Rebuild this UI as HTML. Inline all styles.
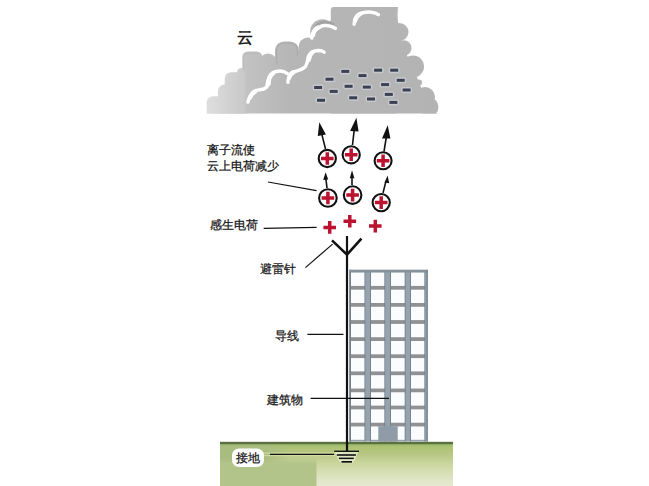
<!DOCTYPE html>
<html><head><meta charset="utf-8">
<style>
html,body{margin:0;padding:0;background:#fff;}
body{width:649px;height:486px;position:relative;overflow:hidden;font-family:"Liberation Sans",sans-serif;color:#161616;}
svg{position:absolute;left:0;top:0;}
.t{position:absolute;font-size:12px;line-height:12px;white-space:nowrap;-webkit-text-stroke:0.25px #161616;}
</style></head><body>
<svg width="649" height="486" viewBox="0 0 649 486">
<defs>
<linearGradient id="cg" x1="207" y1="0" x2="438" y2="0" gradientUnits="userSpaceOnUse">
<stop offset="0" stop-color="#dedede"/>
<stop offset="0.16" stop-color="#c9c9c9"/>
<stop offset="0.17" stop-color="#c2c2c2"/>
<stop offset="0.36" stop-color="#b6b6b6"/>
<stop offset="1" stop-color="#b3b3b3"/>
</linearGradient>
<linearGradient id="gg" x1="0" y1="444" x2="0" y2="486" gradientUnits="userSpaceOnUse">
<stop offset="0" stop-color="#a2bf6e"/>
<stop offset="0.1" stop-color="#afc377"/>
<stop offset="0.25" stop-color="#b9c784"/>
<stop offset="0.45" stop-color="#c9d59c"/>
<stop offset="0.7" stop-color="#d8e0b8"/>
<stop offset="1" stop-color="#e6ead2"/>
</linearGradient>
<linearGradient id="gl" x1="220" y1="0" x2="290" y2="0" gradientUnits="userSpaceOnUse">
<stop offset="0" stop-color="#a8bc80"/>
<stop offset="0.65" stop-color="#a9bd80"/>
<stop offset="1" stop-color="#a9bd80" stop-opacity="0"/>
</linearGradient>
<clipPath id="cc"><rect x="200" y="7" width="250" height="106.5"/></clipPath>
</defs>
<!-- cloud -->
<g clip-path="url(#cc)" fill="url(#cg)">
<polygon points="214,104.5 224,93 231,82 243,76 245,60 251,60 265,62 287,53 308,47 322,31 331,20 334,12 397,12 399,31 403,48 413,66.5 419,82.5 425,97 429,108 438,114 207,114"/>
<path d="M330.8,9.5 Q330.8,7 333,7 H398 Q397.5,15 396.8,21 L396.8,114 H330.8 Z"/>
<rect x="206.6" y="96.2" width="18.5" height="30" rx="6.5"/>
<rect x="218" y="84.5" width="20" height="40" rx="6.5"/>
<rect x="224.7" y="72.2" width="18.5" height="50" rx="6.5"/>
<rect x="237" y="68" width="10" height="50" rx="4.5"/>
<rect x="242.2" y="51.5" width="20" height="30" rx="5.5"/>
<circle cx="268" cy="62.3" r="8.8"/>
<rect x="275" y="41.4" width="24" height="30" rx="9"/>
<circle cx="308" cy="47" r="9.5"/>
<circle cx="322.5" cy="31.5" r="12.3"/>
<circle cx="399.5" cy="32" r="9"/>
<circle cx="403.7" cy="48" r="7.8"/>
<circle cx="413" cy="66.5" r="11"/>
<circle cx="419" cy="82.5" r="3"/>
<circle cx="425" cy="97" r="10"/>
<circle cx="429" cy="107" r="9.5"/>
</g>
<!-- cloud rims -->
<g fill="none" stroke-linecap="round">
<path d="M312.6,35 C313,28 317.5,22.6 323.5,22 C328,21.7 331,22.8 333.2,24.3" stroke="#a2a2a2" stroke-width="2.6"/>
<path d="M276.6,64 V51 C276.6,46 279.5,43.2 284,43.2 H290.5 C294.5,43.2 297.3,46 297.3,50.5 V56" stroke="#acacac" stroke-width="1.3"/>
<path d="M243.8,70 V58 C243.8,55 245.5,53.2 248.5,53.2 H257" stroke="#bababa" stroke-width="1.2"/>
</g>
<!-- cloud white highlights -->
<g fill="none" stroke="#fff" stroke-width="3.4" stroke-linecap="round" stroke-linejoin="round">
<path d="M247.9,102 C249.5,95 253,91 258.7,89.9 C261,89.5 263,89.3 264.5,88.6 L266.9,86.9 C267.5,80 270,73 276,71.5 C280,70.5 284.5,71.3 287.2,73.5"/>
<path d="M287.9,82.4 C288,77 291,72 297,70.8 C300,70 302.5,69.5 304.7,67.3 C307.5,64 307.8,60 308.2,57 C309,53.5 313,51 318.5,50.5 C320.5,50.5 323,51.2 324.2,52.2"/>
<path d="M311.8,38.1 C312,33 315,29 322.2,25.9 C326,25 332,26 335.4,28.4"/>
<path d="M354.1,24.3 C354,19 358,13.5 363.8,12.5 C368,11.5 375,12 378.4,14.6"/>
</g>
<g fill="none" stroke="#fff" stroke-width="4.4" stroke-linecap="round">
<path d="M268.5,84 C268.5,79 270,75.5 273,73.2"/>
<path d="M308.6,60 C309,56 310,54 312.5,52.2"/>
<path d="M313,35 C313.5,31 315,29 318,27.5"/>
<path d="M355,21 C355.5,18 357,15.5 360,14"/>
<path d="M250,97.5 C251,95 252.5,93 255,91.5"/>
<path d="M289,78 C289.5,75.5 291,73.5 293.5,72.2"/>
</g>
<!-- negative charges -->
<rect x="339.8" y="68.4" width="11" height="6" rx="2" fill="#cbcdd4" opacity="0.8"/>
<rect x="372.6" y="67.2" width="11" height="6" rx="2" fill="#cbcdd4" opacity="0.8"/>
<rect x="388.7" y="67.2" width="11" height="6" rx="2" fill="#cbcdd4" opacity="0.8"/>
<rect x="357.0" y="72.6" width="11" height="6" rx="2" fill="#cbcdd4" opacity="0.8"/>
<rect x="324.0" y="76.2" width="11" height="6" rx="2" fill="#cbcdd4" opacity="0.8"/>
<rect x="395.2" y="77.3" width="11" height="6" rx="2" fill="#cbcdd4" opacity="0.8"/>
<rect x="343.1" y="83.3" width="11" height="6" rx="2" fill="#cbcdd4" opacity="0.8"/>
<rect x="361.3" y="84.1" width="11" height="6" rx="2" fill="#cbcdd4" opacity="0.8"/>
<rect x="379.6" y="81.6" width="11" height="6" rx="2" fill="#cbcdd4" opacity="0.8"/>
<rect x="312.6" y="84.5" width="11" height="6" rx="2" fill="#cbcdd4" opacity="0.8"/>
<rect x="328.2" y="88.4" width="11" height="6" rx="2" fill="#cbcdd4" opacity="0.8"/>
<rect x="401.1" y="87.0" width="11" height="6" rx="2" fill="#cbcdd4" opacity="0.8"/>
<rect x="383.3" y="91.4" width="11" height="6" rx="2" fill="#cbcdd4" opacity="0.8"/>
<rect x="347.7" y="94.8" width="11" height="6" rx="2" fill="#cbcdd4" opacity="0.8"/>
<rect x="365.5" y="96.0" width="11" height="6" rx="2" fill="#cbcdd4" opacity="0.8"/>
<rect x="315.5" y="97.3" width="11" height="6" rx="2" fill="#cbcdd4" opacity="0.8"/>
<rect x="387.9" y="99.4" width="11" height="6" rx="2" fill="#cbcdd4" opacity="0.8"/>
<rect x="341.3" y="69.9" width="8" height="3" fill="#3b4152"/>
<rect x="374.1" y="68.7" width="8" height="3" fill="#3b4152"/>
<rect x="390.2" y="68.7" width="8" height="3" fill="#3b4152"/>
<rect x="358.5" y="74.1" width="8" height="3" fill="#3b4152"/>
<rect x="325.5" y="77.7" width="8" height="3" fill="#3b4152"/>
<rect x="396.7" y="78.8" width="8" height="3" fill="#3b4152"/>
<rect x="344.6" y="84.8" width="8" height="3" fill="#3b4152"/>
<rect x="362.8" y="85.6" width="8" height="3" fill="#3b4152"/>
<rect x="381.1" y="83.1" width="8" height="3" fill="#3b4152"/>
<rect x="314.1" y="86.0" width="8" height="3" fill="#3b4152"/>
<rect x="329.7" y="89.9" width="8" height="3" fill="#3b4152"/>
<rect x="402.6" y="88.5" width="8" height="3" fill="#3b4152"/>
<rect x="384.8" y="92.9" width="8" height="3" fill="#3b4152"/>
<rect x="349.2" y="96.3" width="8" height="3" fill="#3b4152"/>
<rect x="367.0" y="97.5" width="8" height="3" fill="#3b4152"/>
<rect x="317.0" y="98.8" width="8" height="3" fill="#3b4152"/>
<rect x="389.4" y="100.9" width="8" height="3" fill="#3b4152"/>
<!-- arrows -->
<g stroke="#111" stroke-width="1.6" fill="none">
<line x1="325.5" y1="149" x2="321.5" y2="133"/>
<line x1="352.5" y1="145" x2="354.3" y2="129"/>
<line x1="384" y1="151.5" x2="386.5" y2="136"/>
<line x1="327" y1="188" x2="325.8" y2="178"/>
<line x1="352" y1="185" x2="352" y2="176"/>
<line x1="383" y1="193" x2="386" y2="181"/>
</g>
<g fill="#111">
<polygon points="319.3,122.3 317.8,136 325.9,134.4"/>
<polygon points="356.4,117.8 350.1,131 358.6,131.6"/>
<polygon points="387.7,125.3 382,138.4 390.4,138.4"/>
<polygon points="325.6,172.3 323.2,180 328.2,179.4"/>
<polygon points="352,170.2 349.8,178.3 354.4,178.3"/>
<polygon points="387.6,175.6 384.5,182.4 389.2,183.2"/>
</g>
<!-- circles -->
<g fill="#fff" stroke="#111" stroke-width="2.1">
<circle cx="327.3" cy="158.5" r="8.6"/>
<circle cx="351.2" cy="154.8" r="8.6"/>
<circle cx="383.1" cy="160.8" r="8.5"/>
<circle cx="327.9" cy="198" r="8.8"/>
<circle cx="352.6" cy="195.1" r="8.8"/>
<circle cx="381.2" cy="202.6" r="8.6"/>
</g>
<!-- plus signs -->
<g stroke="#bc1331" stroke-width="3.5">
<path d="M321.0,158.5h12.6M327.3,152.2v12.6"/>
<path d="M344.9,154.8h12.6M351.2,148.5v12.6"/>
<path d="M376.8,160.8h12.6M383.1,154.5v12.6"/>
<path d="M321.6,198h12.6M327.9,191.7v12.6"/>
<path d="M346.3,195.1h12.6M352.6,188.8v12.6"/>
<path d="M374.9,202.6h12.6M381.2,196.3v12.6"/>
<path d="M323.4,227.4h12.6M329.7,221.1v12.6"/>
<path d="M343.5,221.2h12.6M349.8,214.9v12.6"/>
<path d="M369.0,226.1h12.6M375.3,219.8v12.6"/>
</g>
<!-- building -->
<rect x="349.2" y="269.8" width="78.6" height="171.7" fill="#95a3ae"/>
<rect x="349.2" y="269.8" width="78.6" height="2.8" fill="#87939c"/>
<rect x="349.2" y="269.8" width="1.8" height="171.7" fill="#87939c"/>
<rect x="350.4" y="285.9" width="14.6" height="3.8" fill="#8f9193"/>
<rect x="370.4" y="285.9" width="14.5" height="3.8" fill="#8f9193"/>
<rect x="390.4" y="285.9" width="14.8" height="3.8" fill="#8f9193"/>
<rect x="410.4" y="285.9" width="14.5" height="3.8" fill="#8f9193"/>
<rect x="350.4" y="303.0" width="14.6" height="3.8" fill="#8f9193"/>
<rect x="370.4" y="303.0" width="14.5" height="3.8" fill="#8f9193"/>
<rect x="390.4" y="303.0" width="14.8" height="3.8" fill="#8f9193"/>
<rect x="410.4" y="303.0" width="14.5" height="3.8" fill="#8f9193"/>
<rect x="350.4" y="320.1" width="14.6" height="3.8" fill="#8f9193"/>
<rect x="370.4" y="320.1" width="14.5" height="3.8" fill="#8f9193"/>
<rect x="390.4" y="320.1" width="14.8" height="3.8" fill="#8f9193"/>
<rect x="410.4" y="320.1" width="14.5" height="3.8" fill="#8f9193"/>
<rect x="350.4" y="337.2" width="14.6" height="3.8" fill="#8f9193"/>
<rect x="370.4" y="337.2" width="14.5" height="3.8" fill="#8f9193"/>
<rect x="390.4" y="337.2" width="14.8" height="3.8" fill="#8f9193"/>
<rect x="410.4" y="337.2" width="14.5" height="3.8" fill="#8f9193"/>
<rect x="350.4" y="354.3" width="14.6" height="3.8" fill="#8f9193"/>
<rect x="370.4" y="354.3" width="14.5" height="3.8" fill="#8f9193"/>
<rect x="390.4" y="354.3" width="14.8" height="3.8" fill="#8f9193"/>
<rect x="410.4" y="354.3" width="14.5" height="3.8" fill="#8f9193"/>
<rect x="350.4" y="371.4" width="14.6" height="3.8" fill="#8f9193"/>
<rect x="370.4" y="371.4" width="14.5" height="3.8" fill="#8f9193"/>
<rect x="390.4" y="371.4" width="14.8" height="3.8" fill="#8f9193"/>
<rect x="410.4" y="371.4" width="14.5" height="3.8" fill="#8f9193"/>
<rect x="350.4" y="388.5" width="14.6" height="3.8" fill="#8f9193"/>
<rect x="370.4" y="388.5" width="14.5" height="3.8" fill="#8f9193"/>
<rect x="390.4" y="388.5" width="14.8" height="3.8" fill="#8f9193"/>
<rect x="410.4" y="388.5" width="14.5" height="3.8" fill="#8f9193"/>
<rect x="350.4" y="405.6" width="14.6" height="3.8" fill="#8f9193"/>
<rect x="370.4" y="405.6" width="14.5" height="3.8" fill="#8f9193"/>
<rect x="390.4" y="405.6" width="14.8" height="3.8" fill="#8f9193"/>
<rect x="410.4" y="405.6" width="14.5" height="3.8" fill="#8f9193"/>
<rect x="350.4" y="422.7" width="14.6" height="3.8" fill="#8f9193"/>
<rect x="370.4" y="422.7" width="14.5" height="3.8" fill="#8f9193"/>
<rect x="390.4" y="422.7" width="14.8" height="3.8" fill="#8f9193"/>
<rect x="410.4" y="422.7" width="14.5" height="3.8" fill="#8f9193"/>
<rect x="350.1" y="272.4" width="0.9" height="169.1" fill="#74808a"/>
<rect x="364.4" y="272.4" width="0.9" height="169.1" fill="#74808a"/>
<rect x="370.1" y="272.4" width="0.9" height="169.1" fill="#74808a"/>
<rect x="384.3" y="272.4" width="0.9" height="169.1" fill="#74808a"/>
<rect x="390.1" y="272.4" width="0.9" height="169.1" fill="#74808a"/>
<rect x="404.6" y="272.4" width="0.9" height="169.1" fill="#74808a"/>
<rect x="410.1" y="272.4" width="0.9" height="169.1" fill="#74808a"/>
<rect x="424.3" y="272.4" width="0.9" height="169.1" fill="#74808a"/>
<rect x="351.0" y="272.6" width="13.4" height="13.3" fill="#fbfcfd"/>
<rect x="371.0" y="272.6" width="13.3" height="13.3" fill="#fbfcfd"/>
<rect x="391.0" y="272.6" width="13.6" height="13.3" fill="#fbfcfd"/>
<rect x="411.0" y="272.6" width="13.3" height="13.3" fill="#fbfcfd"/>
<rect x="351.0" y="289.7" width="13.4" height="13.3" fill="#fbfcfd"/>
<rect x="371.0" y="289.7" width="13.3" height="13.3" fill="#fbfcfd"/>
<rect x="391.0" y="289.7" width="13.6" height="13.3" fill="#fbfcfd"/>
<rect x="411.0" y="289.7" width="13.3" height="13.3" fill="#fbfcfd"/>
<rect x="351.0" y="306.8" width="13.4" height="13.3" fill="#fbfcfd"/>
<rect x="371.0" y="306.8" width="13.3" height="13.3" fill="#fbfcfd"/>
<rect x="391.0" y="306.8" width="13.6" height="13.3" fill="#fbfcfd"/>
<rect x="411.0" y="306.8" width="13.3" height="13.3" fill="#fbfcfd"/>
<rect x="351.0" y="323.9" width="13.4" height="13.3" fill="#fbfcfd"/>
<rect x="371.0" y="323.9" width="13.3" height="13.3" fill="#fbfcfd"/>
<rect x="391.0" y="323.9" width="13.6" height="13.3" fill="#fbfcfd"/>
<rect x="411.0" y="323.9" width="13.3" height="13.3" fill="#fbfcfd"/>
<rect x="351.0" y="341.0" width="13.4" height="13.3" fill="#fbfcfd"/>
<rect x="371.0" y="341.0" width="13.3" height="13.3" fill="#fbfcfd"/>
<rect x="391.0" y="341.0" width="13.6" height="13.3" fill="#fbfcfd"/>
<rect x="411.0" y="341.0" width="13.3" height="13.3" fill="#fbfcfd"/>
<rect x="351.0" y="358.1" width="13.4" height="13.3" fill="#fbfcfd"/>
<rect x="371.0" y="358.1" width="13.3" height="13.3" fill="#fbfcfd"/>
<rect x="391.0" y="358.1" width="13.6" height="13.3" fill="#fbfcfd"/>
<rect x="411.0" y="358.1" width="13.3" height="13.3" fill="#fbfcfd"/>
<rect x="351.0" y="375.2" width="13.4" height="13.3" fill="#fbfcfd"/>
<rect x="371.0" y="375.2" width="13.3" height="13.3" fill="#fbfcfd"/>
<rect x="391.0" y="375.2" width="13.6" height="13.3" fill="#fbfcfd"/>
<rect x="411.0" y="375.2" width="13.3" height="13.3" fill="#fbfcfd"/>
<rect x="351.0" y="392.3" width="13.4" height="13.3" fill="#fbfcfd"/>
<rect x="371.0" y="392.3" width="13.3" height="13.3" fill="#fbfcfd"/>
<rect x="391.0" y="392.3" width="13.6" height="13.3" fill="#fbfcfd"/>
<rect x="411.0" y="392.3" width="13.3" height="13.3" fill="#fbfcfd"/>
<rect x="351.0" y="409.4" width="13.4" height="13.3" fill="#fbfcfd"/>
<rect x="371.0" y="409.4" width="13.3" height="13.3" fill="#fbfcfd"/>
<rect x="391.0" y="409.4" width="13.6" height="13.3" fill="#fbfcfd"/>
<rect x="411.0" y="409.4" width="13.3" height="13.3" fill="#fbfcfd"/>
<rect x="351.0" y="426.5" width="13.4" height="13.3" fill="#fbfcfd"/>
<rect x="371.0" y="426.5" width="13.3" height="13.3" fill="#fbfcfd"/>
<rect x="391.0" y="426.5" width="13.6" height="13.3" fill="#fbfcfd"/>
<rect x="411.0" y="426.5" width="13.3" height="13.3" fill="#fbfcfd"/>
<rect x="426.4" y="269.8" width="1.4" height="171.7" fill="#7b8790"/>
<rect x="378.3" y="426.2" width="19.4" height="15.3" fill="#8f9ca8"/>
<!-- ground -->
<rect x="220" y="442" width="233" height="44" fill="url(#gg)"/>
<rect x="220" y="444" width="70" height="19" fill="url(#gl)"/>
<linearGradient id="gb" x1="0" y1="457" x2="0" y2="464" gradientUnits="userSpaceOnUse"><stop offset="0" stop-color="#b2c489" stop-opacity="0"/><stop offset="1" stop-color="#b2c489"/></linearGradient>
<path d="M220,457 H311.5 Q316.5,457 316.5,462 V486 H220 Z" fill="url(#gb)"/>
<rect x="220" y="444" width="233" height="1.5" fill="#9ab868" opacity="0.6"/>
<rect x="262" y="452.6" width="80" height="1" fill="#dfe8b6" opacity="0.8"/>
<rect x="262" y="455.2" width="80" height="1" fill="#dfe8b6" opacity="0.8"/>
<rect x="220" y="441.8" width="233" height="2.4" fill="#5b7040"/>
<!-- label lines -->
<g stroke="#111" stroke-width="1.2" fill="none">
<line x1="268" y1="182" x2="316.6" y2="190.7"/>
<line x1="263.7" y1="228.3" x2="316.6" y2="227.4"/>
<line x1="305.4" y1="267.6" x2="332.6" y2="244.1"/>
<line x1="307.4" y1="334.3" x2="343.5" y2="334.3"/>
<line x1="310.6" y1="398.3" x2="389" y2="398.3"/>
</g>
<!-- lightning rod -->
<g stroke="#111" fill="none">
<line x1="347" y1="236" x2="347" y2="451.5" stroke-width="2.2"/>
<polyline points="332,240.4 347,254.6 361.4,238.6" stroke-width="2.6"/>
</g>
<!-- ground symbol -->
<g>
<polygon points="334.5,451.5 358.5,451.5 354.5,460.5 352,463.3 341.5,463.3 338.5,460.5" fill="#f3f6e6" opacity="0.6"/>
<line x1="270" y1="454.3" x2="334" y2="454.3" stroke="#111" stroke-width="1.2"/>
<rect x="334.3" y="450.6" width="24.7" height="1.4" fill="#111"/>
<rect x="336.8" y="454.2" width="19.1" height="1.6" fill="#111"/>
<rect x="338.9" y="457.6" width="14.9" height="1.5" fill="#111"/>
<rect x="341.5" y="461" width="10.5" height="1.7" fill="#111"/>
</g>
<rect x="232" y="448.5" width="32" height="18.5" rx="7" fill="#fff"/>
</svg>
<div class="t" style="left:237px;top:29.5px;font-size:16px;line-height:16px;-webkit-text-stroke:0.55px #161616;">云</div>
<div class="t" style="left:207px;top:144px;">离子流使</div>
<div class="t" style="left:207px;top:160px;">云上电荷减少</div>
<div class="t" style="left:210px;top:219px;">感生电荷</div>
<div class="t" style="left:260px;top:263px;">避雷针</div>
<div class="t" style="left:275px;top:330px;">导线</div>
<div class="t" style="left:266.7px;top:394.3px;">建筑物</div>
<div class="t" style="left:236px;top:452px;">接地</div>
</body></html>
